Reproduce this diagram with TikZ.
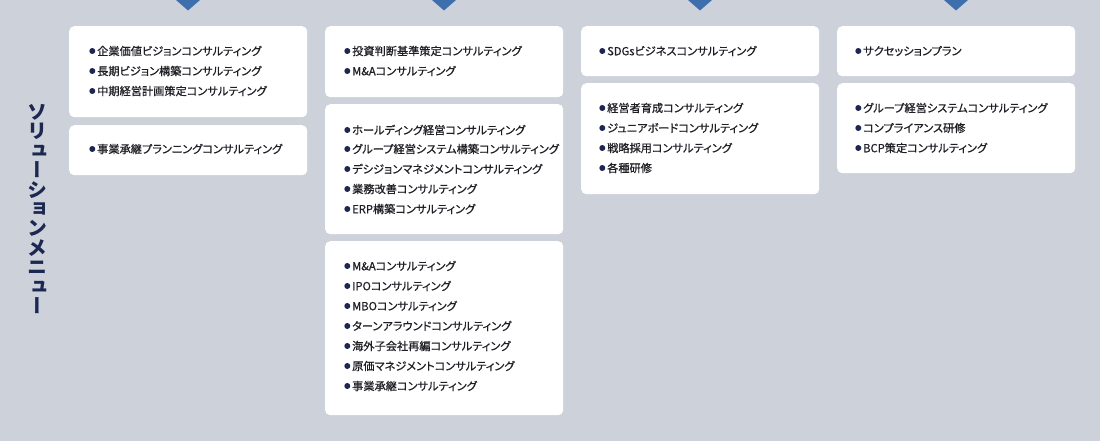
\documentclass[tikz,border=0pt]{standalone}
\usepackage{fontspec}
\newfontfamily\jp[RawFeature=+palt, FakeBold=0.6]{Noto Sans CJK JP}
\newfontfamily\jpv[RawFeature=+vert]{Noto Sans CJK JP}
\definecolor{bgc}{HTML}{CDD1DA}
\definecolor{tric}{HTML}{3E6EAB}
\definecolor{navy}{HTML}{1C2752}
\definecolor{txt}{HTML}{1E1E24}
\begin{document}
\begin{tikzpicture}[x=1pt,y=-1pt,
  card/.style={fill=white, rounded corners=5pt, draw=none, inner sep=0pt, anchor=north west, minimum width=238pt},
  dot/.style={circle, fill=navy, inner sep=0pt, minimum size=6pt},
  item/.style={anchor=west, inner sep=0pt, text=txt, font=\jp\fontsize{11.2}{13}\selectfont, label={[dot, label distance=1.5pt]left:{}}},
  tri/.style={fill=tric},
  title/.style={text=navy, font=\jpv\bfseries\fontsize{20}{19.4}\selectfont, align=center, inner sep=0pt}]
\useasboundingbox (0,0) rectangle (1100,441);
\fill[bgc] (0,0) rectangle (1100,441);
% triangles
\foreach \cx in {188,444,700,956}{\fill[tri] (\cx-12,0) -- (\cx+12,0) -- (\cx,10.5) -- cycle;}
% title
\node[title] (ttl) at (37.5,209) {ソ\\リ\\ュ\\ー\\シ\\ョ\\ン\\メ\\ニ\\ュ\\ー};
% column 1
\node[card, minimum height=91pt] (c1a) at (69,26) {};
\node[card, minimum height=50pt] (c1b) at (69,125) {};
\node[item] (i11) at (97,51) {企業価値ビジョンコンサルティング};
\node[item] (i12) at (97,71) {長期ビジョン構築コンサルティング};
\node[item] (i13) at (97,91) {中期経営計画策定コンサルティング};
\node[item] (i14) at (97,149) {事業承継プランニングコンサルティング};
% column 2
\node[card, minimum height=71pt] (c2a) at (325,26) {};
\node[card, minimum height=130pt] (c2b) at (325,104) {};
\node[card, minimum height=174pt] (c2c) at (325,241) {};
\node[item] (i21) at (352,51) {投資判断基準策定コンサルティング};
\node[item] (i22) at (352,71) {M\&Aコンサルティング};
\node[item] (i23) at (352,130) {ホールディング経営コンサルティング};
\node[item] (i24) at (352,149) {グループ経営システム構築コンサルティング};
\node[item] (i25) at (352,169) {デシジョンマネジメントコンサルティング};
\node[item] (i26) at (352,189) {業務改善コンサルティング};
\node[item] (i27) at (352,209) {ERP構築コンサルティング};
\node[item] (i28) at (352,266) {M\&Aコンサルティング};
\node[item] (i29) at (352,286) {IPOコンサルティング};
\node[item] (i210) at (352,306) {MBOコンサルティング};
\node[item] (i211) at (352,326) {ターンアラウンドコンサルティング};
\node[item] (i212) at (352,346) {海外子会社再編コンサルティング};
\node[item] (i213) at (352,366) {原価マネジメントコンサルティング};
\node[item] (i214) at (352,386) {事業承継コンサルティング};
% column 3
\node[card, minimum height=50pt] (c3a) at (581,26) {};
\node[card, minimum height=111pt] (c3b) at (581,83) {};
\node[item] (i31) at (607,51) {SDGsビジネスコンサルティング};
\node[item] (i32) at (607,108) {経営者育成コンサルティング};
\node[item] (i33) at (607,128) {ジュニアボードコンサルティング};
\node[item] (i34) at (607,148) {戦略採用コンサルティング};
\node[item] (i35) at (607,168) {各種研修};
% column 4
\node[card, minimum height=50pt] (c4a) at (837,26) {};
\node[card, minimum height=90pt] (c4b) at (837,83) {};
\node[item] (i41) at (863,51) {サクセッションプラン};
\node[item] (i42) at (863,108) {グループ経営システムコンサルティング};
\node[item] (i43) at (863,128) {コンプライアンス研修};
\node[item] (i44) at (863,148) {BCP策定コンサルティング};
\end{tikzpicture}
\end{document}
